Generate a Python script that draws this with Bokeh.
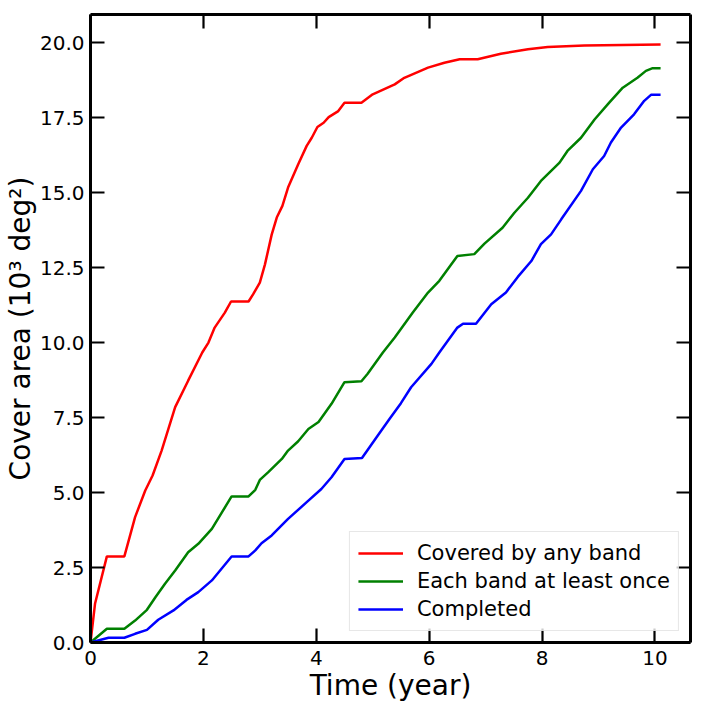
from bokeh.plotting import figure
from bokeh.models import (LinearAxis, FixedTicker, NumeralTickFormatter, Range1d,
                          Legend, LegendItem, CustomJSTickFormatter)
from bokeh.embed import file_html
from bokeh.resources import INLINE

# ---- data ----
t_any = [0.0, 0.08, 0.29, 0.6, 0.79, 0.97, 1.1, 1.26, 1.5, 1.73, 1.98, 2.09, 2.2, 2.38, 2.49,
         2.8, 2.88, 3.0, 3.09, 3.21, 3.3, 3.4, 3.5, 3.68, 3.83, 3.92, 4.02, 4.13, 4.22, 4.39,
         4.5, 4.8, 5.0, 5.39, 5.56, 5.98, 6.27, 6.54, 6.86, 7.27, 7.75, 8.1, 8.75, 10.1]
v_any = [0.0, 1.29, 2.87, 2.87, 4.18, 5.07, 5.57, 6.4, 7.85, 8.73, 9.67, 10.0, 10.5, 11.0, 11.37,
         11.37, 11.61, 12.0, 12.6, 13.6, 14.17, 14.56, 15.17, 15.95, 16.56, 16.83, 17.19, 17.33,
         17.52, 17.72, 18.0, 18.0, 18.28, 18.61, 18.83, 19.17, 19.33, 19.45, 19.45, 19.63, 19.78,
         19.86, 19.91, 19.94]

t_once = [0.0, 0.29, 0.6, 0.79, 1.0, 1.15, 1.32, 1.5, 1.73, 1.91, 2.15, 2.5, 2.8, 2.92, 3.0,
          3.15, 3.39, 3.5, 3.68, 3.86, 4.04, 4.27, 4.5, 4.8, 4.91, 5.18, 5.39, 5.71, 5.98, 6.18,
          6.5, 6.8, 6.98, 7.3, 7.51, 7.75, 7.98, 8.31, 8.45, 8.69, 8.93, 9.19, 9.43, 9.69, 9.84,
          9.96, 10.1]
v_once = [0.0, 0.46, 0.46, 0.73, 1.09, 1.51, 1.96, 2.4, 3.01, 3.29, 3.79, 4.87, 4.87, 5.09, 5.42,
          5.68, 6.12, 6.4, 6.71, 7.12, 7.35, 7.96, 8.68, 8.71, 8.96, 9.67, 10.17, 11.0, 11.67, 12.06,
          12.89, 12.95, 13.3, 13.83, 14.33, 14.83, 15.39, 16.0, 16.39, 16.83, 17.44, 18.0, 18.5,
          18.83, 19.06, 19.15, 19.15]

t_done = [0.0, 0.32, 0.6, 0.79, 1.0, 1.2, 1.47, 1.7, 1.91, 2.15, 2.5, 2.8, 2.92, 3.03, 3.21,
          3.5, 3.86, 4.09, 4.27, 4.5, 4.81, 5.09, 5.3, 5.5, 5.68, 6.04, 6.18, 6.5, 6.6, 6.83,
          7.1, 7.36, 7.57, 7.81, 7.98, 8.16, 8.34, 8.69, 8.9, 9.1, 9.22, 9.4, 9.63, 9.81, 9.93, 10.1]
v_done = [0.0, 0.16, 0.16, 0.29, 0.42, 0.76, 1.07, 1.42, 1.68, 2.07, 2.87, 2.87, 3.07, 3.31, 3.57,
          4.12, 4.73, 5.12, 5.51, 6.12, 6.15, 6.9, 7.46, 7.98, 8.51, 9.29, 9.67, 10.5, 10.63, 10.63,
          11.28, 11.67, 12.19, 12.72, 13.28, 13.61, 14.11, 15.06, 15.78, 16.22, 16.67, 17.17, 17.61,
          18.06, 18.26, 18.26]

series_labels = ["Covered by any band", "Each band at least once", "Completed"]
series_colors = ["#ff0000", "#008000", "#0000ff"]

x_ticks = [0, 2, 4, 6, 8, 10]
y_ticks = [0.0, 2.5, 5.0, 7.5, 10.0, 12.5, 15.0, 17.5, 20.0]

FONT = "DejaVu Sans"

p = figure(frame_width=600, frame_height=628,
           x_range=Range1d(0, 10.63), y_range=Range1d(0, 20.94),
           output_backend="svg", toolbar_location=None,
           min_border_left=84, min_border_right=6, min_border_top=14, min_border_bottom=50,
           x_axis_label="Time (year)", y_axis_label="Cover area (10\u00b3 deg\u00b2)")
p.grid.visible = False
p.outline_line_color = None
p.background_fill_color = "white"
p.border_fill_color = "white"

p.add_layout(LinearAxis(), "above")
p.add_layout(LinearAxis(), "right")

for ax in p.xaxis:
    ax.ticker = FixedTicker(ticks=x_ticks)
for ax in p.yaxis:
    ax.ticker = FixedTicker(ticks=y_ticks)
    ax.formatter = NumeralTickFormatter(format="0.0")

for ax in p.axis:
    ax.axis_line_width = 3
    ax.axis_line_color = "black"
    ax.major_tick_in = 14
    ax.major_tick_out = 0
    ax.major_tick_line_width = 2.2
    ax.major_tick_line_color = "black"
    ax.minor_tick_line_color = None
    ax.major_label_text_font = FONT
    ax.major_label_text_font_size = "20px"
    ax.major_label_text_color = "black"
    ax.axis_label_text_font = FONT
    ax.axis_label_text_font_size = "28px"
    ax.axis_label_text_font_style = "normal"
    ax.axis_label_text_color = "black"

p.above[0].formatter = CustomJSTickFormatter(code="return ''")
p.above[0].major_label_text_font_size = "0px"
p.above[0].major_label_standoff = 0
p.right[0].formatter = CustomJSTickFormatter(code="return ''")
p.right[0].major_label_text_font_size = "0px"
p.right[0].major_label_standoff = 0

p.below[0].major_label_standoff = 8
p.below[0].axis_label_standoff = 1
p.left[0].major_label_standoff = 6
p.left[0].axis_label_standoff = 0

renderers = []
for xs, ys, c in [(t_any, v_any, series_colors[0]), (t_once, v_once, series_colors[1]),
                  (t_done, v_done, series_colors[2])]:
    r = p.line(xs, ys, line_color=c, line_width=2.5)
    renderers.append(r)

legend = Legend(items=[LegendItem(label=lab, renderers=[r]) for lab, r in zip(series_labels, renderers)],
                location="bottom_right", margin=11, padding=8, spacing=2,
                glyph_width=45, glyph_height=26, label_height=26, label_standoff=14,
                label_text_font=FONT, label_text_font_size="21px", label_text_color="black",
                border_line_color="#d0d0d0", border_line_width=1,
                background_fill_color="white", background_fill_alpha=0.8)
p.add_layout(legend)

open("out.html", "w").write(file_html(p, INLINE))
